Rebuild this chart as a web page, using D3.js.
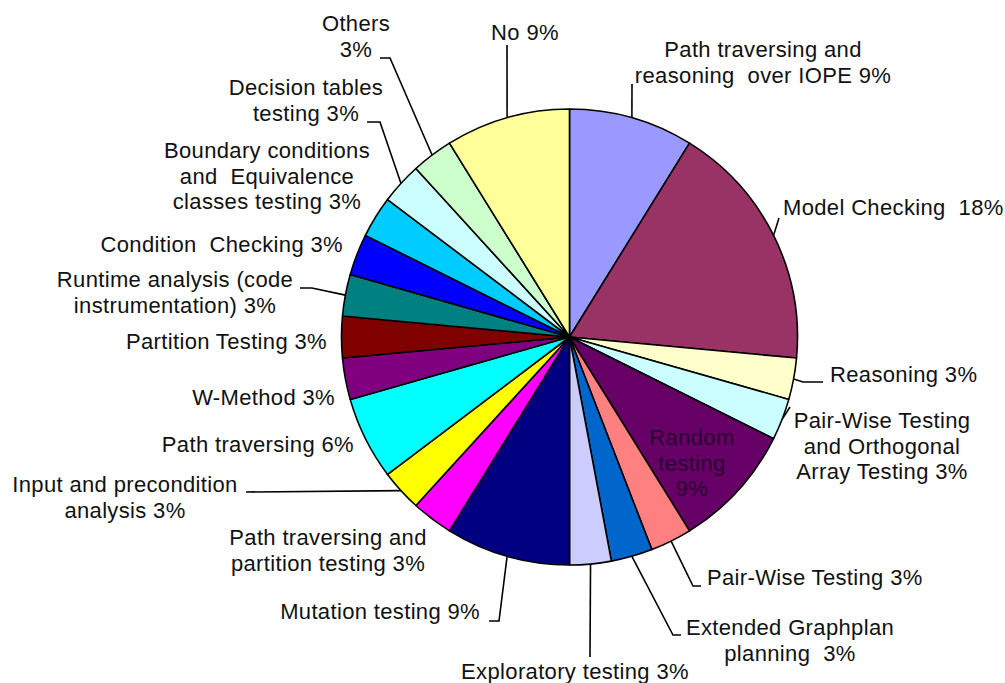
<!DOCTYPE html>
<html>
<head>
<meta charset="utf-8">
<script src="https://cdn.jsdelivr.net/npm/d3@7"></script>
<style>
  html, body { margin: 0; padding: 0; background: #ffffff; }
  svg { display: block; }
  text { font-family: "Liberation Sans", Arial, sans-serif; font-size: 22px; letter-spacing: 0.35px; fill: #111111; white-space: pre; }
</style>
</head>
<body>
<svg id="chart" width="1005" height="683"></svg>
<script>
// Testing approaches and their share of the surveyed works (percent)
const categories = [
  "Path traversing and\nreasoning  over IOPE",
  "Model Checking ",
  "Reasoning",
  "Pair-Wise Testing\nand Orthogonal\nArray Testing",
  "Random\ntesting",
  "Pair-Wise Testing",
  "Extended Graphplan\nplanning ",
  "Exploratory testing",
  "Mutation testing",
  "Path traversing and\npartition testing",
  "Input and precondition\nanalysis",
  "Path traversing",
  "W-Method",
  "Partition Testing",
  "Runtime analysis (code\ninstrumentation)",
  "Condition  Checking",
  "Boundary conditions\nand  Equivalence\nclasses testing",
  "Decision tables\ntesting",
  "Others",
  "No"
];
const shares = [9, 18, 3, 3, 9, 3, 3, 3, 9, 3, 3, 6, 3, 3, 3, 3, 3, 3, 3, 9];
const colors = [
  "#9999FF", "#993366", "#FFFFCC", "#CCFFFF", "#660066",
  "#FF8080", "#0066CC", "#CCCCFF", "#000080", "#FF00FF",
  "#FFFF00", "#00FFFF", "#800080", "#800000", "#008080",
  "#0000FF", "#00CCFF", "#CCFFFF", "#CCFFCC", "#FFFF99"
];

// Label placement: first-line baseline, anchor, separator before the percent,
// and elbow points of the leader line (listed from the pie outward).
const labelLayout = [
  { x: 763, y: 57,  anchor: "middle", sep: " ",  leader: [[632, 84]] },
  { x: 783, y: 215, anchor: "start",  sep: " ",  leader: [[779, 218]] },
  { x: 830, y: 382, anchor: "start",  sep: " ",  leader: [[803, 382], [823, 382]] },
  { x: 882, y: 428, anchor: "middle", sep: " ",  leader: [[790, 407]] },
  { x: 692, y: 445, anchor: "middle", sep: "\n", inside: true },
  { x: 707, y: 585, anchor: "start",  sep: " ",  leader: [[693, 586], [701, 586]] },
  { x: 790, y: 635, anchor: "middle", sep: " ",  leader: [[673, 635], [681, 635]] },
  { x: 575, y: 679, anchor: "middle", sep: " ",  leader: [[590, 657]] },
  { x: 480, y: 619, anchor: "end",    sep: " ",  leader: [[499, 621], [489, 621]] },
  { x: 328, y: 545, anchor: "middle", sep: " " },
  { x: 125, y: 492, anchor: "middle", sep: " ",  leader: [[246, 492]] },
  { x: 354, y: 452, anchor: "end",    sep: " " },
  { x: 335, y: 405, anchor: "end",    sep: " " },
  { x: 327, y: 349, anchor: "end",    sep: " " },
  { x: 175, y: 287, anchor: "middle", sep: " ",  leader: [[312, 288], [300, 288]] },
  { x: 343, y: 252, anchor: "end",    sep: " " },
  { x: 267, y: 158, anchor: "middle", sep: " " },
  { x: 306, y: 95,  anchor: "middle", sep: " ",  leader: [[380, 122], [367, 122]] },
  { x: 356, y: 31,  anchor: "middle", sep: "\n", leader: [[390, 58], [380, 58]] },
  { x: 525, y: 40,  anchor: "middle", sep: " ",  leader: [[507, 45]] }
];

const cx = 569.5, cy = 337, radius = 228, lineHeight = 25.5;

const svg = d3.select("#chart");
const g = svg.append("g").attr("transform", `translate(${cx},${cy})`);

const data = categories.map((c, i) => ({ name: c, value: shares[i], color: colors[i], layout: labelLayout[i] }));

const pie = d3.pie().value(d => d.value).sort(null);
const arcs = pie(data);
const arc = d3.arc().innerRadius(0).outerRadius(radius);
const rim = d3.arc().innerRadius(radius).outerRadius(radius);

g.selectAll("path.slice")
  .data(arcs)
  .enter().append("path")
  .attr("class", "slice")
  .attr("d", arc)
  .attr("fill", d => d.data.color)
  .attr("stroke", "#000")
  .attr("stroke-width", 1.6)
  .attr("stroke-linejoin", "round");

// leader lines from the middle of each slice's rim
const line = d3.line();
svg.selectAll("path.leader")
  .data(arcs.filter(d => d.data.layout.leader))
  .enter().append("path")
  .attr("class", "leader")
  .attr("fill", "none")
  .attr("stroke", "#000")
  .attr("stroke-width", 1.6)
  .attr("d", d => {
    const [px, py] = rim.centroid(d);
    return line([[cx + px, cy + py]].concat(d.data.layout.leader));
  });

// labels
const labels = svg.selectAll("text.label")
  .data(arcs)
  .enter().append("text")
  .attr("class", "label")
  .attr("text-anchor", d => d.data.layout.anchor)
  .style("fill", d => d.data.layout.inside ? "#2a0032" : null);

labels.each(function(d) {
  const L = d.data.layout;
  const text = d.data.name + L.sep + d.data.value + "%";
  const lines = text.split("\n");
  const t = d3.select(this);
  lines.forEach((s, k) => {
    t.append("tspan").attr("x", L.x).attr("y", L.y + k * lineHeight).text(s);
  });
});
</script>
</body>
</html>
